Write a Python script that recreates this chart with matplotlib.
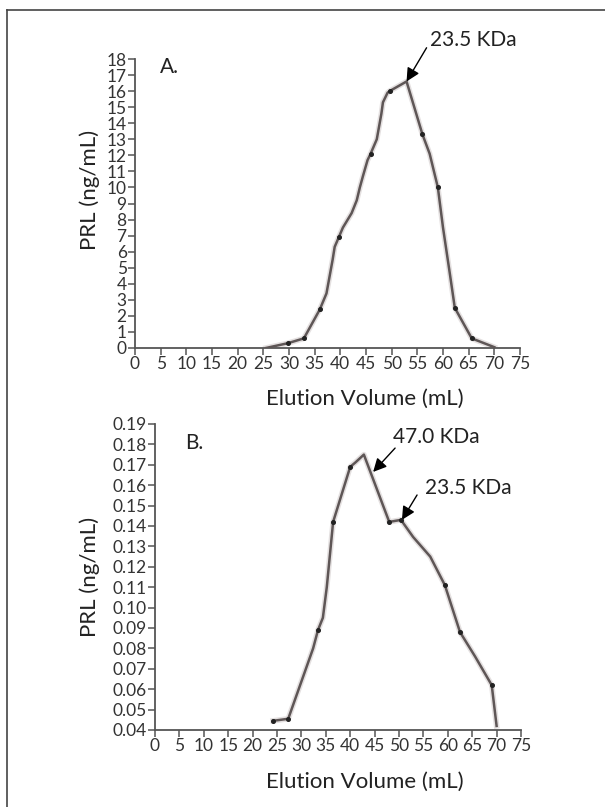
import matplotlib
matplotlib.use("Agg")
import matplotlib.pyplot as plt
from matplotlib.lines import Line2D

plt.rcParams['font.family'] = ['Lato', 'DejaVu Sans']

# panel A: elution profile
a_x = [25.5, 29.8, 32.9, 36.0, 37.3, 38.5, 38.9, 39.7, 40.5, 42.2, 43.2, 43.8, 44.4, 45.3,
       45.9, 47.1, 48.0, 48.3, 49.2, 49.6, 52.9, 56.0, 57.4, 59.0, 60.0, 61.3, 62.3, 65.6, 70.0]
a_y = [0.0, 0.3, 0.6, 2.4, 3.4, 5.5, 6.3, 6.9, 7.5, 8.4, 9.2, 10.0, 10.7, 11.7,
       12.1, 13.0, 14.6, 15.3, 15.9, 16.0, 16.6, 13.3, 12.1, 10.0, 7.5, 4.7, 2.5, 0.6, 0.05]
a_marks = [1, 2, 3, 7, 14, 19, 21, 23, 26, 27]

# panel B
b_x = [24.2, 27.3, 32.4, 33.4, 34.4, 35.2, 36.5, 40.0, 41.0, 42.8, 48.0, 50.4,
       52.9, 56.4, 59.4, 62.5, 65.6, 69.0, 70.0]
b_y = [0.0445, 0.0455, 0.080, 0.089, 0.095, 0.110, 0.142, 0.169, 0.171, 0.175, 0.142, 0.143,
       0.1346, 0.125, 0.111, 0.088, 0.076, 0.062, 0.042]
b_marks = [0, 1, 3, 6, 7, 10, 11, 14, 15, 17]

x_ticks = list(range(0, 80, 5))
a_ticks = list(range(0, 19))
b_ticks = [0.04 + 0.01 * i for i in range(16)]
b_ticklabels = ['%.2f' % v for v in b_ticks]

line_col = '#5e5656'
axis_col = '#555555'
text_col = '#222222'

fig = plt.figure(figsize=(6.05, 8.07), dpi=100)

# frame around the figure (only top and left edges visible)
fig.add_artist(Line2D([7 / 605, 7 / 605], [0, 1 - 10 / 807], transform=fig.transFigure,
                      color='#444444', lw=1.2))
fig.add_artist(Line2D([7 / 605, 1], [1 - 10 / 807, 1 - 10 / 807], transform=fig.transFigure,
                      color='#444444', lw=1.2))

ax1 = fig.add_axes([135 / 605, 459 / 807, 385 / 605, 289 / 807])
ax2 = fig.add_axes([155 / 605, 77 / 807, 366 / 605, 306 / 807])


def style(ax):
    for s in ['top', 'right']:
        ax.spines[s].set_visible(False)
    for s in ['left', 'bottom']:
        ax.spines[s].set_color(axis_col)
        ax.spines[s].set_linewidth(1.3)
    ax.tick_params(direction='out', length=5, width=1.1, color=axis_col,
                   labelcolor='#333333', labelsize=12.5, pad=1)
    ax.set_xlim(0, 75)
    ax.set_xticks(x_ticks)


def draw(ax, x, y, marks):
    ax.plot(x, y, color='#e4e0e0', lw=4, solid_joinstyle='round', zorder=2)
    ax.plot(x, y, color=line_col, lw=1.8, solid_joinstyle='round', zorder=3)
    ax.plot([x[i] for i in marks], [y[i] for i in marks], 'o', ms=2.6,
            color='#222222', zorder=4)


style(ax1)
draw(ax1, a_x, a_y, a_marks)
ax1.set_ylim(0, 18)
ax1.set_yticks(a_ticks)
ax1.set_ylabel('PRL (ng/mL)', fontsize=16, color=text_col)
ax1.yaxis.set_label_coords(-0.091, 0.547)
ax1.set_xlabel('Elution Volume (mL)', fontsize=16, color=text_col)
ax1.xaxis.set_label_coords(0.597, -0.142)
ax1.text(0.065, 0.972, 'A.', transform=ax1.transAxes, fontsize=15, va='center',
         color=text_col)
ax1.annotate('', xy=(52.9, 16.6), xytext=(56.8, 18.7), annotation_clip=False,
             arrowprops=dict(arrowstyle='-|>', color='black', lw=1, mutation_scale=20,
                             shrinkA=0, shrinkB=0))
ax1.text(57.4, 19.2, '23.5 KDa', fontsize=15, va='center', color=text_col, clip_on=False)

style(ax2)
draw(ax2, b_x, b_y, b_marks)
ax2.set_ylim(0.04, 0.19)
ax2.set_yticks(b_ticks)
ax2.set_yticklabels(b_ticklabels)
ax2.set_ylabel('PRL (ng/mL)', fontsize=16, color=text_col)
ax2.yaxis.set_label_coords(-0.150, 0.5)
ax2.set_xlabel('Elution Volume (mL)', fontsize=16, color=text_col)
ax2.xaxis.set_label_coords(0.574, -0.137)
ax2.text(0.082, 0.938, 'B.', transform=ax2.transAxes, fontsize=15, va='center',
         color=text_col)
ax2.annotate('', xy=(44.7, 0.1665), xytext=(49.2, 0.1782),
             arrowprops=dict(arrowstyle='-|>', color='black', lw=1, mutation_scale=20,
                             shrinkA=0, shrinkB=0))
ax2.text(48.8, 0.1836, '47.0 KDa', fontsize=15, va='center', color=text_col)
ax2.annotate('', xy=(50.6, 0.143), xytext=(53.7, 0.1552),
             arrowprops=dict(arrowstyle='-|>', color='black', lw=1, mutation_scale=20,
                             shrinkA=0, shrinkB=0))
ax2.text(55.3, 0.1586, '23.5 KDa', fontsize=15, va='center', color=text_col)

fig.savefig('out.png', dpi=100)
